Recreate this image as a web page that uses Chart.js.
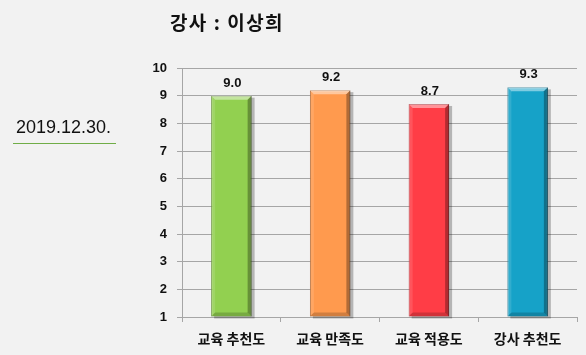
<!DOCTYPE html>
<html><head><meta charset="utf-8">
<script src="https://cdn.jsdelivr.net/npm/chart.js@4"></script>
<style>
html,body{margin:0;padding:0;background:#f2f2f2;}
#wrap{position:relative;width:586px;height:355px;overflow:hidden;}
#title{position:absolute;left:0;width:454px;top:8px;text-align:center;font:bold 19px "Noto Sans CJK KR",sans-serif;letter-spacing:1.5px;color:#111;}
#date{position:absolute;left:16px;top:117px;font:18px "Liberation Sans",Arial,sans-serif;color:#111;}
#line{position:absolute;left:13px;top:143px;width:103px;height:1px;background:#70ad47;}
canvas{position:absolute;left:0;top:0;}
</style></head>
<body><div id="wrap">
<canvas id="c" width="586" height="355"></canvas>
<div id="title">강사 : 이상희</div>
<div id="date">2019.12.30.</div>
<div id="line"></div>
</div>
<script>
const categories = ['교육 추천도','교육 만족도','교육 적용도','강사 추천도'];
const scores = [9.0, 9.2, 8.7, 9.3];
const yTicks = [1,2,3,4,5,6,7,8,9,10];
const barColors = ['#92d050','#ff9a4e','#ff3d46','#16a2c8'];
const edgeColors = ['#5e8a2e','#a85f28','#a8262c','#0e6a84'];

const font = {family:'"Noto Sans CJK KR", sans-serif', size:14, weight:'bold'};

const bevel = {
  id:'bevel',
  beforeDatasetsDraw(chart){
    const ctx = chart.ctx;
    ctx.save();
    chart.getDatasetMeta(0).data.forEach((b,i)=>{
      const w = b.width, x0 = b.x - w/2;
      ctx.fillStyle = 'rgba(0,0,0,0.25)';
      ctx.fillRect(x0+3, b.y+2, w, b.base - b.y);
    });
    ctx.restore();
  },
  afterDatasetsDraw(chart){
    const ctx = chart.ctx;
    ctx.save();
    chart.getDatasetMeta(0).data.forEach((b,i)=>{
      const w = b.width, x0 = b.x - w/2, top = b.y, bot = b.base;
      ctx.fillStyle = 'rgba(255,255,255,0.45)';
      ctx.beginPath(); ctx.moveTo(x0,top); ctx.lineTo(x0+w,top); ctx.lineTo(x0+w-4,top+4); ctx.lineTo(x0+4,top+4); ctx.closePath(); ctx.fill();
      ctx.fillStyle = 'rgba(0,0,0,0.30)';
      ctx.beginPath(); ctx.moveTo(x0+w,top); ctx.lineTo(x0+w,bot); ctx.lineTo(x0+w-4,bot-4); ctx.lineTo(x0+w-4,top+4); ctx.closePath(); ctx.fill();
      ctx.fillStyle = 'rgba(0,0,0,0.18)';
      ctx.beginPath(); ctx.moveTo(x0,bot); ctx.lineTo(x0+w,bot); ctx.lineTo(x0+w-4,bot-4); ctx.lineTo(x0+4,bot-4); ctx.closePath(); ctx.fill();
      ctx.fillStyle = 'rgba(255,255,255,0.12)';
      ctx.beginPath(); ctx.moveTo(x0,top); ctx.lineTo(x0,bot); ctx.lineTo(x0+4,bot-4); ctx.lineTo(x0+4,top+4); ctx.closePath(); ctx.fill();
      ctx.fillStyle = '#111';
      ctx.font = 'bold 13px "Liberation Sans", Arial, sans-serif';
      ctx.textAlign = 'center'; ctx.textBaseline = 'bottom';
      ctx.fillText(scores[i].toFixed(1), b.x + 1, top - 6);
    });
    ctx.restore();
  }
};

new Chart(document.getElementById('c'), {
  type:'bar',
  data:{labels:categories, datasets:[{data:scores, base:1, backgroundColor:barColors, borderColor:edgeColors, borderWidth:1, barPercentage:0.41, categoryPercentage:1}]},
  options:{
    responsive:false, animation:false,
    layout:{padding:{left:132, right:9, top:68, bottom:0}},
    plugins:{legend:{display:false}, tooltip:{enabled:false}},
    scales:{
      y:{min:1, max:10, afterBuildTicks(s){s.ticks = yTicks.map(v=>({value:v}));},
        afterFit(s){s.width = 50;},
        ticks:{font:{family:'"Liberation Sans", Arial, sans-serif', size:13, weight:'bold'}, color:'#111', padding:10},
        grid:{color:'#a6a6a6', tickLength:5, drawTicks:true},
        border:{color:'#a6a6a6'}},
      x:{afterFit(s){s.height = 38;},
        ticks:{font, color:'#111', padding:8},
        grid:{offset:true, drawOnChartArea:false, color:'#a6a6a6', tickLength:5},
        border:{color:'#a6a6a6'}}
    }
  },
  plugins:[bevel]
});
</script>
</body></html>
